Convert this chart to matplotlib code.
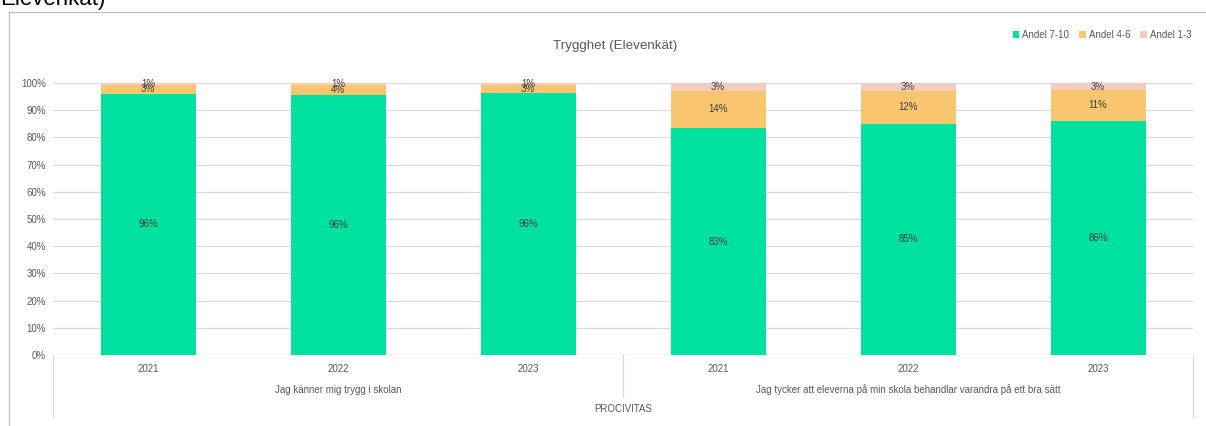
import matplotlib
matplotlib.use("Agg")
import matplotlib.pyplot as plt
from matplotlib.lines import Line2D
from matplotlib.patches import Patch

plt.rcParams['font.family'] = ['Liberation Sans Narrow', 'Liberation Sans', 'DejaVu Sans']

# data (shares in %)
years = ['2021', '2022', '2023', '2021', '2022', '2023']
groups = ['Jag känner mig trygg i skolan',
          'Jag tycker att eleverna på min skola behandlar varandra på ett bra sätt']
school = 'PROCIVITAS'
andel_7_10 = [96.1, 95.6, 96.2, 83.4, 85.0, 86.1]
andel_4_6 = [3.2, 3.7, 3.1, 13.8, 12.2, 11.3]
andel_1_3 = [0.7, 0.7, 0.7, 2.8, 2.8, 2.6]
series_names = ['Andel 7-10', 'Andel 4-6', 'Andel 1-3']
colors = ['#00E09E', '#F8C66F', '#F4CCC1']

W, H = 1206, 426
fig = plt.figure(figsize=(W / 100, H / 100), dpi=100)
ax = fig.add_axes([53 / W, 1 - 355 / H, (1193 - 53) / W, 272 / H])

x = list(range(len(years)))
bottom = [0] * len(x)
for vals, col in zip([andel_7_10, andel_4_6, andel_1_3], colors):
    ax.bar(x, [v / 100 for v in vals], width=0.5, bottom=bottom, color=col, zorder=2)
    for xi, v, b in zip(x, vals, bottom):
        ax.text(xi, b + v / 200, f"{round(v)}%", ha='center', va='center',
                fontsize=7, color='#404040', zorder=3)
    bottom = [b + v / 100 for b, v in zip(bottom, vals)]

ax.set_xlim(-0.5, 5.5)
ax.set_ylim(0, 1)
ax.set_yticks([i / 10 for i in range(11)])
ax.set_yticklabels([f"{i * 10}%" for i in range(11)], fontsize=7, color='#595959')
ax.tick_params(axis='y', length=0, pad=5)
ax.set_xticks([])
ax.grid(axis='y', color='#D9D9D9', linewidth=0.9, zorder=0)
for s in ax.spines.values():
    s.set_visible(False)
ax.axhline(0, color='#D9D9D9', linewidth=0.9, zorder=1)

# multi-level category axis
tr = ax.get_xaxis_transform()
def py(p):
    return (355 - p) / 272
for xs, bot in [(-0.5, 417), (2.5, 397), (5.5, 417)]:
    ax.add_line(Line2D([xs, xs], [0, py(bot)], transform=tr, color='#D9D9D9',
                       linewidth=0.9, clip_on=False))
for xi, yr in zip(x, years):
    ax.text(xi, py(369), yr, transform=tr, ha='center', va='center',
            fontsize=7, color='#595959')
for gi, g in enumerate(groups):
    ax.text(gi * 3 + 1, py(390), g, transform=tr, ha='center', va='center',
            fontsize=7, color='#595959')
ax.text(2.5, py(409), school, transform=tr, ha='center', va='center',
        fontsize=7, color='#595959')

# chart frame
fig.add_artist(Line2D([8.5 / W, 8.5 / W], [0, 1 - 11.5 / H], color='#BFBFBF', linewidth=0.9))
fig.add_artist(Line2D([8.5 / W, 1], [1 - 11.5 / H, 1 - 11.5 / H], color='#BFBFBF', linewidth=0.9))

fig.text(615 / W, 1 - 46 / H, 'Trygghet (Elevenkät)', ha='center', va='center',
         fontsize=9.6, color='#595959')
# heading above the chart, cut off by the page edge
fig.text(106 / W, 1 - 5 / H, 'Elevenkät)', ha='right', va='baseline', fontsize=16, color='#000000')

handles = [Patch(facecolor=c, edgecolor='none') for c in colors]
fig.legend(handles, series_names, loc='center right', bbox_to_anchor=(1200 / W, 1 - 35 / H),
           ncol=3, frameon=False, fontsize=7, labelcolor='#595959',
           handlelength=0.7, handleheight=0.7, handletextpad=0.3, columnspacing=1.0)

fig.savefig('out.png', dpi=100)
